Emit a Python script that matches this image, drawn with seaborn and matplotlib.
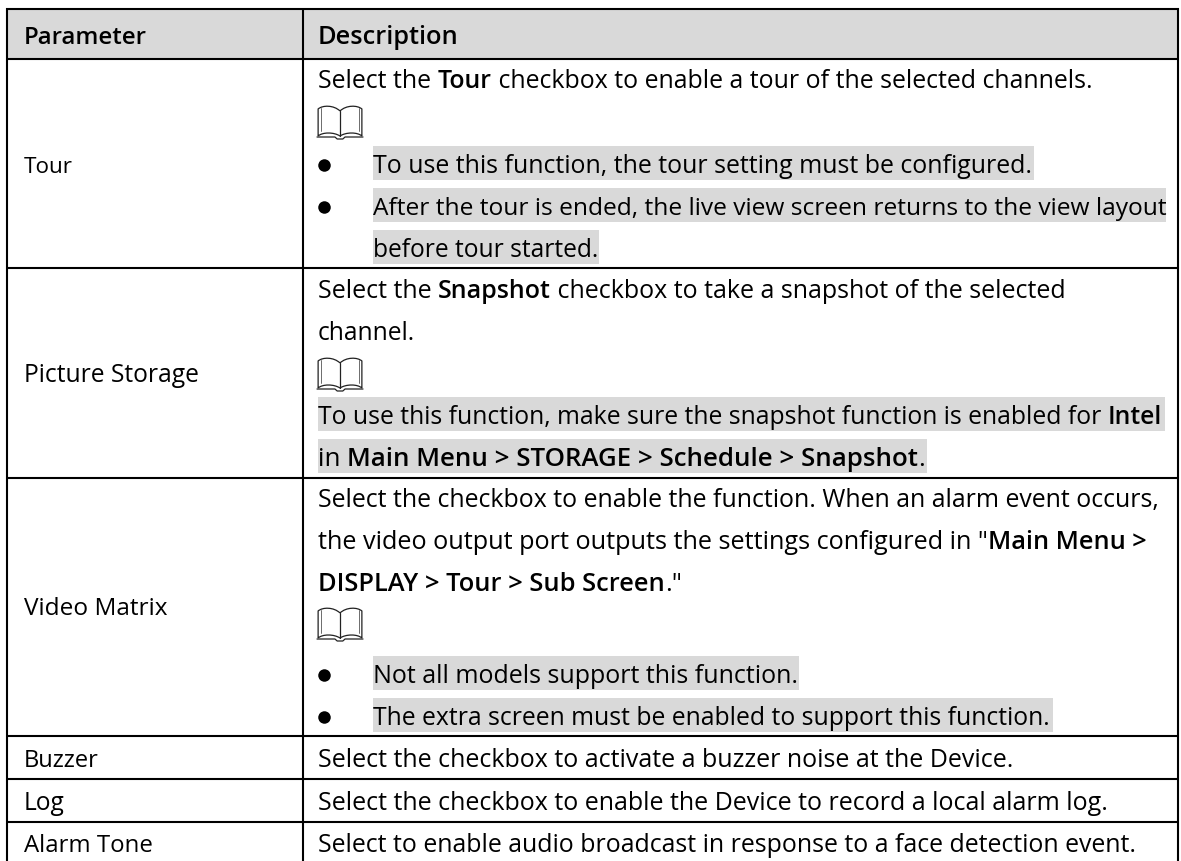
import re
import numpy as np
import matplotlib
matplotlib.use("Agg")
import matplotlib.pyplot as plt
from matplotlib.path import Path
from matplotlib.patches import PathPatch, Rectangle
import seaborn as sns

# isi tabel
header = ["Parameter", "Description"]
parameters = ["Tour", "Picture Storage", "Video Matrix", "Buzzer", "Log", "Alarm Tone"]
desc_tour = [
    "Select the **Tour** checkbox to enable a tour of the selected channels.",
    "To use this function, the tour setting must be configured.",
    "After the tour is ended, the live view screen returns to the view layout",
    "before tour started.",
]
desc_picture = [
    "Select the **Snapshot** checkbox to take a snapshot of the selected",
    "channel.",
    "To use this function, make sure the snapshot function is enabled for **Intel**",
    "in **Main Menu > STORAGE > Schedule > Snapshot**.",
]
desc_matrix = [
    "Select the checkbox to enable the function. When an alarm event occurs,",
    "the video output port outputs the settings configured in \"**Main Menu >**",
    "**DISPLAY > Tour > Sub Screen**.\"",
    "Not all models support this function.",
    "The extra screen must be enabled to support this function.",
]
desc_buzzer = "Select the checkbox to activate a buzzer noise at the Device."
desc_log = "Select the checkbox to enable the Device to record a local alarm log."
desc_alarm = "Select to enable audio broadcast in response to a face detection event."

GREY = "#d9d9d9"
FONT = "Open Sans"
BASE = 17.3
BOLD = "semibold"

sns.set_theme(style="white")
plt.rcParams["font.family"] = [FONT, "DejaVu Sans"]

W, H = 1181, 861
fig = plt.figure(figsize=(W / 100, H / 100), dpi=100)
ax = fig.add_axes([0, 0, 1, 1])
ax.set_xlim(0, W)
ax.set_ylim(H, 0)
ax.axis("off")

# header abu-abu pakai heatmap
hdr_ax = fig.add_axes([7 / W, 1 - 59 / H, (1178 - 7) / W, 50 / H], zorder=0)
sns.heatmap(np.ones((1, 1)), cmap=[GREY], cbar=False, ax=hdr_ax, xticklabels=False, yticklabels=False)
ax.set_zorder(1)
ax.patch.set_alpha(0)

renderer = fig.canvas.get_renderer()


def run_width(s, bold, size):
    # pakai pembatas supaya spasi di ujung ikut terukur
    t = ax.text(0, 0, "|" + s + "|", fontsize=size, fontweight=BOLD if bold else "normal")
    w1 = t.get_window_extent(renderer).width
    t.set_text("||")
    w2 = t.get_window_extent(renderer).width
    t.remove()
    return w1 - w2


def draw_line(text, x, y, end, highlight=False):
    parts = re.split(r"\*\*", text)
    runs = [(p, i % 2 == 1) for i, p in enumerate(parts) if p]
    width = sum(run_width(s, b, BASE) for s, b in runs)
    size = BASE * (end - x) / width
    if highlight:
        ax.add_patch(Rectangle((x, y - 27), end - x + 1, 34, fc=GREY, ec="none", zorder=1))
    for s, b in runs:
        ax.text(x, y, s, fontsize=size, fontweight=BOLD if b else "normal",
                color="black", va="baseline", ha="left", zorder=3)
        x += run_width(s, b, size)


def book(x, y):
    # ikon buku catatan
    k = 46 / 41
    verts = [
        (20.5, 5), (15, -1), (5, -1), (1, 3),
        (1, 3), (1, 30), (1, 30),
        (5, 26), (15, 26), (20.5, 30),
        (26, 26), (36, 26), (40, 30),
        (40, 3), (40, 3), (36, -1), (26, -1), (20.5, 5),
    ]
    verts = [(x + vx * k, y + vy) for vx, vy in verts]
    codes = [Path.MOVETO, Path.CURVE4, Path.CURVE4, Path.CURVE4, Path.LINETO, Path.LINETO, Path.LINETO,
             Path.CURVE4, Path.CURVE4, Path.CURVE4, Path.CURVE4, Path.CURVE4, Path.CURVE4,
             Path.LINETO, Path.LINETO, Path.CURVE4, Path.CURVE4, Path.CURVE4]
    ax.add_patch(PathPatch(Path(verts, codes), fc="none", ec="#222222", lw=0.9, zorder=3))
    ax.plot([x + 20.5 * k] * 2, [y + 5, y + 30], color="#222222", lw=0.9, zorder=3)
    ax.plot([x + 4 * k] * 2, [y + 2, y + 25], color="#555555", lw=0.6, zorder=3)
    ax.plot([x + 37 * k] * 2, [y + 2, y + 25], color="#555555", lw=0.6, zorder=3)
    ax.plot([x, x + 16 * k, x + 18 * k, x + 23 * k, x + 25 * k, x + 41 * k],
            [y + 31, y + 31, y + 33, y + 33, y + 31, y + 31], color="#222222", lw=0.9, zorder=3)


def bullet(y):
    ax.plot([324], [y], "o", color="black", ms=9, mew=0, zorder=3)


# garis tabel
for yy in [9, 59, 268, 477.5, 736, 779, 822]:
    ax.plot([6, 1179], [yy, yy], color="black", lw=1.5, solid_capstyle="butt", zorder=2)
for xx in [7, 303, 1178]:
    ax.plot([xx, xx], [8, H], color="black", lw=1.5, solid_capstyle="butt", zorder=2)

# header
draw_line("**" + header[0] + "**", 24, 44, 147)
draw_line("**" + header[1] + "**", 318, 44, 459)

# kolom parameter
for name, yy, end in zip(parameters, [173, 382, 615, 767, 810, 852], [73, 199, 168, 99, 65, 153]):
    draw_line(name, 24, yy, end)

# Tour
draw_line(desc_tour[0], 318, 88, 1095)
book(317, 106)
bullet(165)
bullet(207)
draw_line(desc_tour[1], 373, 173, 1033, highlight=True)
draw_line(desc_tour[2], 373, 215, 1165, highlight=True)
draw_line(desc_tour[3], 373, 257, 598, highlight=True)

# Picture Storage
draw_line(desc_picture[0], 318, 298, 1067)
draw_line(desc_picture[1], 318, 340, 415)
book(317, 358)
draw_line(desc_picture[2], 318, 424, 1164, highlight=True)
draw_line(desc_picture[3], 318, 466, 926, highlight=True)

# Video Matrix
draw_line(desc_matrix[0], 318, 507, 1160)
draw_line(desc_matrix[1], 318, 549, 1148)
draw_line(desc_matrix[2], 318, 591, 683)
book(317, 608)
bullet(675)
bullet(717)
draw_line(desc_matrix[3], 373, 683, 798, highlight=True)
draw_line(desc_matrix[4], 373, 725, 1052, highlight=True)

# baris pendek
draw_line(desc_buzzer, 318, 767, 1014)
draw_line(desc_log, 318, 810, 1109)
draw_line(desc_alarm, 318, 852, 1136)

fig.savefig("out.png", dpi=100)
